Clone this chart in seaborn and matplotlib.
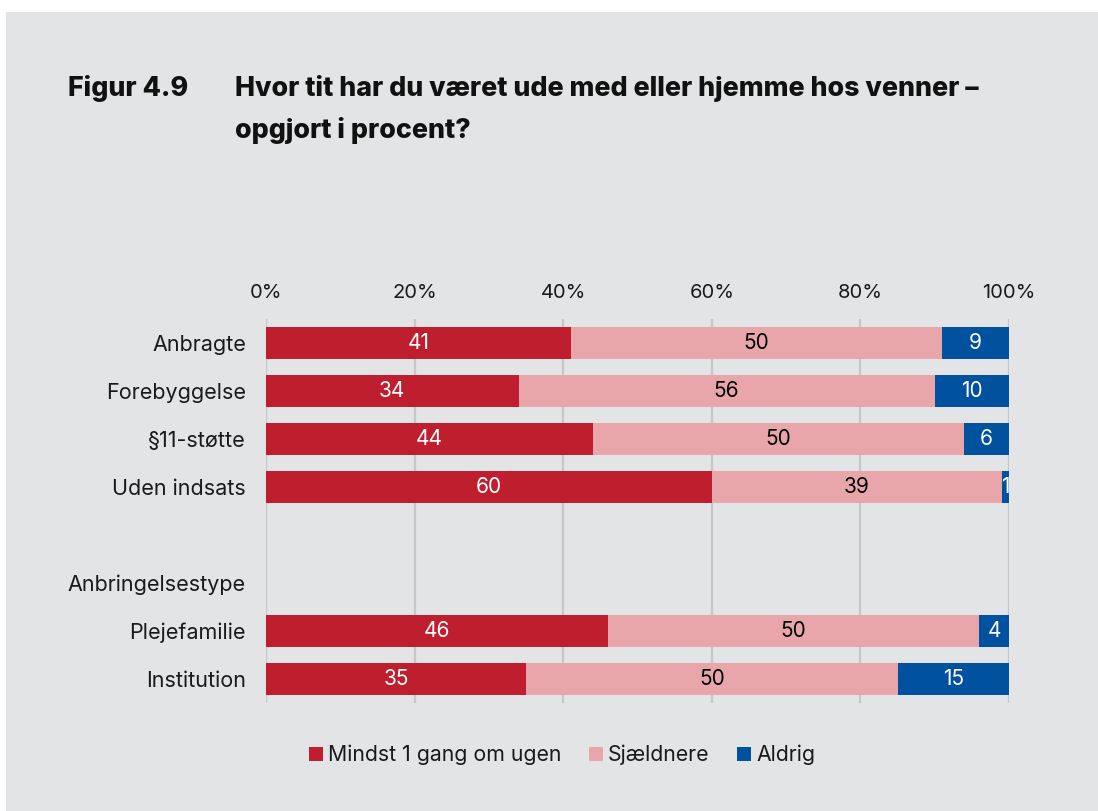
import matplotlib
matplotlib.use("Agg")
import matplotlib.pyplot as plt
from matplotlib.patches import Patch, Rectangle
import seaborn as sns
import pandas as pd
import numpy as np

categories = ["Anbragte", "Forebyggelse", "§11-støtte", "Uden indsats", "",
              "Anbringelsestype", "Plejefamilie", "Institution"]
mindst = [41, 34, 44, 60, np.nan, np.nan, 46, 35]
sjaeldnere = [50, 56, 50, 39, np.nan, np.nan, 50, 50]
aldrig = [9, 10, 6, 1, np.nan, np.nan, 4, 15]
series_names = ["Mindst 1 gang om ugen", "Sjældnere", "Aldrig"]
colors = ["#BE1E2D", "#E8A6AB", "#00519E"]
label_colors = ["white", "black", "white"]
xticks = [0, 20, 40, 60, 80, 100]

BG = "#E3E4E6"
sns.set_theme(style="white")
plt.rcParams["font.family"] = ["Inter", "DejaVu Sans"]

fig = plt.figure(figsize=(10.98, 8.11), dpi=100)
fig.patch.set_facecolor(BG)
# white margins at top and left
fig.patches.append(Rectangle((0, 1 - 12 / 811), 1, 12 / 811, transform=fig.transFigure,
                             facecolor="white", edgecolor="none", zorder=-1))
fig.patches.append(Rectangle((0, 0), 6 / 1098, 1, transform=fig.transFigure,
                             facecolor="white", edgecolor="none", zorder=-1))

ax = fig.add_axes([266 / 1098, 1 - 703 / 811, (1009 - 266) / 1098, (703 - 319) / 811])
ax.set_facecolor(BG)

df = pd.DataFrame({"cat": categories, "s1": mindst, "s2": sjaeldnere, "s3": aldrig})
df["c1"] = df["s1"]
df["c2"] = df["s1"] + df["s2"]
df["c3"] = df["s1"] + df["s2"] + df["s3"]

for col, color in zip(["c3", "c2", "c1"], colors[::-1]):
    sns.barplot(data=df, x=col, y="cat", order=categories, orient="h",
                color=color, saturation=1, width=0.667, linewidth=0, ax=ax, zorder=3)

# value labels
for i, row in df.iterrows():
    if np.isnan(row["s1"]):
        continue
    left = 0
    for s, tc in zip(["s1", "s2", "s3"], label_colors):
        v = row[s]
        ax.text(left + v / 2, i, f"{int(v)}", ha="center", va="center",
                color=tc, fontsize=15, zorder=5, clip_on=True)
        left += v

ax.set_xlim(0, 100)
ax.set_ylim(7.5, -0.5)
ax.set_xticks(xticks)
ax.set_xticklabels([f"{t}%" for t in xticks])
ax.xaxis.tick_top()
ax.tick_params(axis="x", length=0, pad=12, labelsize=14.5, colors="#1a1a1a")
ax.tick_params(axis="y", length=0, pad=14.5, labelsize=15.5, colors="#1a1a1a")
ax.set_xlabel("")
ax.set_ylabel("")
for sp in ax.spines.values():
    sp.set_visible(False)
ax.grid(axis="x", color="#C6C7C9", linewidth=1.6, zorder=0)
ax.set_axisbelow(True)

# title
tkw = dict(fontsize=19.3, fontweight="heavy", va="center", ha="left", color="#111111")
fig.text(68 / 1098, 1 - 89 / 811, "Figur 4.9", **tkw)
fig.text(235 / 1098, 1 - 89 / 811, "Hvor tit har du været ude med eller hjemme hos venner –", **tkw)
fig.text(235 / 1098, 1 - 131 / 811, "opgjort i procent?", **tkw)

# legend
handles = [Patch(facecolor=c, edgecolor="none", label=n) for c, n in zip(colors, series_names)]
fig.legend(handles=handles, loc="center", bbox_to_anchor=(562 / 1098, 1 - 755 / 811),
           ncol=3, frameon=False, fontsize=15.3, handlelength=0.65, handleheight=0.65,
           handletextpad=0.25, columnspacing=1.3, labelcolor="#1a1a1a")

fig.savefig("out.png", dpi=100, facecolor=BG)
